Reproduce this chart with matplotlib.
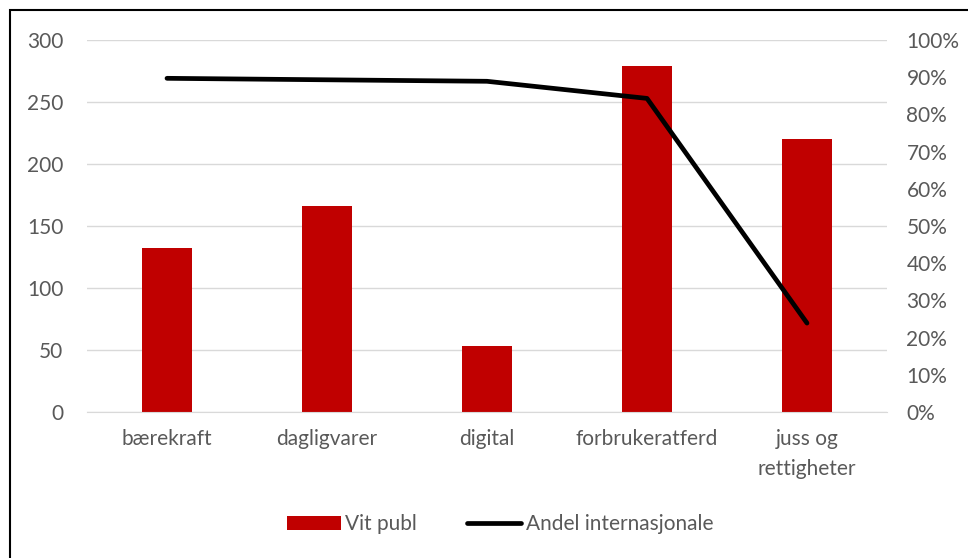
import numpy as np
import matplotlib.pyplot as plt
from matplotlib.patches import Rectangle
from matplotlib.ticker import PercentFormatter

categories = ['bærekraft', 'dagligvarer', 'digital', 'forbrukeratferd', 'juss og\nrettigheter']
vit_publ = [132, 166, 53, 279, 220]
andel_int = [0.897, 0.893, 0.889, 0.843, 0.239]

plt.rcParams['font.family'] = ['Lato', 'DejaVu Sans']
grey = '#595959'
fs = 15

fig = plt.figure(figsize=(9.68, 5.58), dpi=100)
ax = fig.add_axes([87/968, 1-412/558, 800/968, 372/558])
x = np.arange(len(categories))

ax.bar(x, vit_publ, width=0.31, color='#c00000', label='Vit publ', zorder=2)
ax.set_ylim(0, 300)
ax.set_xlim(-0.5, len(categories)-0.5)
ax.set_yticks(np.arange(0, 301, 50))
ax.grid(axis='y', color='#d9d9d9', linewidth=1, zorder=0)
ax.set_xticks(x)
ax.set_xticklabels(categories, fontsize=fs, color=grey, linespacing=1.65)
ax.tick_params(axis='y', labelsize=fs, labelcolor=grey, length=0, pad=17)
ax.tick_params(axis='x', length=0, pad=12)
for s in ax.spines.values():
    s.set_visible(False)
ax.spines['bottom'].set_visible(True)
ax.spines['bottom'].set_color('#d9d9d9')

ax2 = ax.twinx()
ax2.plot(x, andel_int, color='black', linewidth=3.4, solid_capstyle='round',
         label='Andel internasjonale', zorder=3)
ax2.set_ylim(0, 1)
ax2.set_yticks(np.arange(0, 1.01, 0.1))
ax2.yaxis.set_major_formatter(PercentFormatter(1.0, decimals=0))
ax2.tick_params(axis='y', labelsize=fs, labelcolor=grey, length=0, pad=14)
for s in ax2.spines.values():
    s.set_visible(False)

h1, l1 = ax.get_legend_handles_labels()
h2, l2 = ax2.get_legend_handles_labels()
fig.legend(h1 + h2, l1 + l2, loc='center', bbox_to_anchor=(500/968, 1-524/558), ncol=2,
           frameon=False, fontsize=fs, labelcolor=grey, handlelength=2.6,
           handleheight=0.65, handletextpad=0.2, columnspacing=2.4)

fig.patches.append(Rectangle((10/968, -0.05), 1.0, 1-10/558+0.05, transform=fig.transFigure,
                             fill=False, edgecolor='black', linewidth=1.5))

fig.savefig('out.png', dpi=100)
